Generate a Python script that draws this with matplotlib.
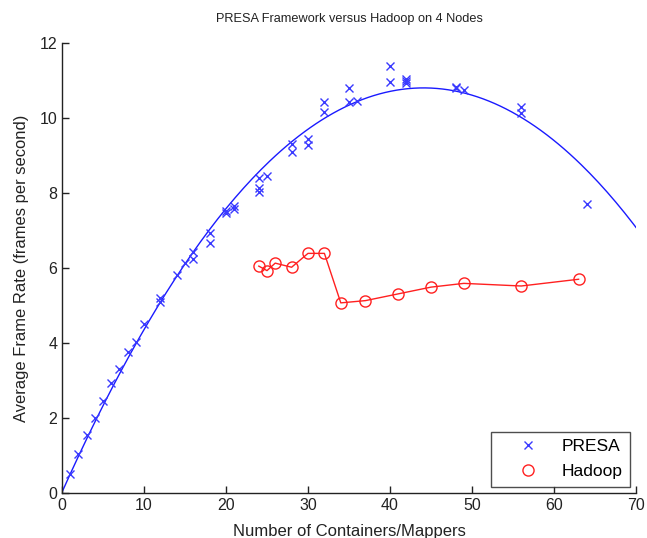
import numpy as np
import matplotlib
matplotlib.use("Agg")
import matplotlib.pyplot as plt

plt.rcParams['font.family'] = ['Liberation Sans', 'DejaVu Sans']

# PRESA measurements
presa_x = [1, 2, 3, 4, 5, 6, 7, 8, 9, 10, 12, 12, 14, 15, 16, 16, 18, 18,
           20, 20, 21, 21, 24, 24, 24, 25, 28, 28, 30, 30, 32, 32, 35, 35,
           36, 40, 40, 42, 42, 42, 48, 48, 49, 56, 56, 64]
presa_y = [0.50, 1.04, 1.55, 2.01, 2.45, 2.93, 3.31, 3.75, 4.03, 4.52, 5.19, 5.10,
           5.81, 6.13, 6.43, 6.23, 6.93, 6.67, 7.47, 7.53, 7.65, 7.57, 8.39, 8.13,
           8.03, 8.45, 9.30, 9.10, 9.43, 9.28, 10.42, 10.17, 10.79, 10.43, 10.46,
           11.39, 10.97, 11.03, 10.93, 10.99, 10.83, 10.80, 10.75, 10.30, 10.14, 7.71]

# Hadoop measurements
hadoop_x = [24, 25, 26, 28, 30, 32, 34, 37, 41, 45, 49, 56, 63]
hadoop_y = [6.05, 5.93, 6.13, 6.02, 6.39, 6.39, 5.07, 5.13, 5.31, 5.49, 5.59, 5.52, 5.70]

x_ticks = [0, 10, 20, 30, 40, 50, 60, 70]
y_ticks = [0, 2, 4, 6, 8, 10, 12]

fig = plt.figure(figsize=(6.47, 5.38), dpi=100)
ax = fig.add_axes([62 / 647, 1 - 493 / 538, 574 / 647, 450 / 538])

# quadratic fit of PRESA data
coef = np.polyfit(presa_x, presa_y, 2)
xx = np.linspace(0, 70, 200)
ax.plot(xx, np.polyval(coef, xx), color='#1a1aff', lw=1.0, zorder=2)

ax.plot(presa_x, presa_y, linestyle='none', marker='x', color='#3a3aff',
        markersize=5.5, markeredgewidth=1.0, zorder=3)
ax.plot(hadoop_x, hadoop_y, color='#ff2020', lw=1.0, marker='o',
        markerfacecolor='none', markeredgecolor='#ff2020', markersize=8,
        markeredgewidth=1.0, zorder=3)
# legend entries (marker only, as in reference)
h1, = ax.plot([], [], linestyle='none', marker='x', color='#3a3aff',
              markersize=5.5, markeredgewidth=1.0, label='PRESA')
h2, = ax.plot([], [], linestyle='none', marker='o', markerfacecolor='none',
              markeredgecolor='#ff2020', markersize=8, markeredgewidth=1.0,
              label='Hadoop')

ax.set_xlim(0, 70)
ax.set_ylim(0, 12)
ax.set_xticks(x_ticks)
ax.set_yticks(y_ticks)
ax.tick_params(direction='in', length=5, width=1, labelsize=11.5, colors='#222222')
for s in ['top', 'right']:
    ax.spines[s].set_visible(False)
for s in ['left', 'bottom']:
    ax.spines[s].set_linewidth(1.0)
    ax.spines[s].set_color('#222222')

ax.set_title('PRESA Framework versus Hadoop on 4 Nodes', fontsize=9.2,
             color='#222222', pad=15)
ax.set_xlabel('Number of Containers/Mappers', fontsize=12, color='#222222')
ax.xaxis.set_label_coords(0.5, -0.086)
ax.xaxis.label.set_va('center')
ax.set_ylabel('Average Frame Rate (frames per second)', fontsize=11.9, color='#222222')
ax.yaxis.set_label_coords(-0.07, 0.5)
ax.yaxis.label.set_va('center')

leg = ax.legend(handles=[h1, h2], loc='lower right',
                bbox_to_anchor=(630 / 647, 1 - 487 / 538),
                bbox_transform=fig.transFigure, fontsize=12.5, frameon=True,
                fancybox=False, borderpad=0.45, borderaxespad=0.0,
                handletextpad=0.17, handlelength=3.45, labelspacing=0.55)
leg.get_frame().set_edgecolor('#222222')
leg.get_frame().set_linewidth(1.0)

fig.savefig('out.png', dpi=100)
